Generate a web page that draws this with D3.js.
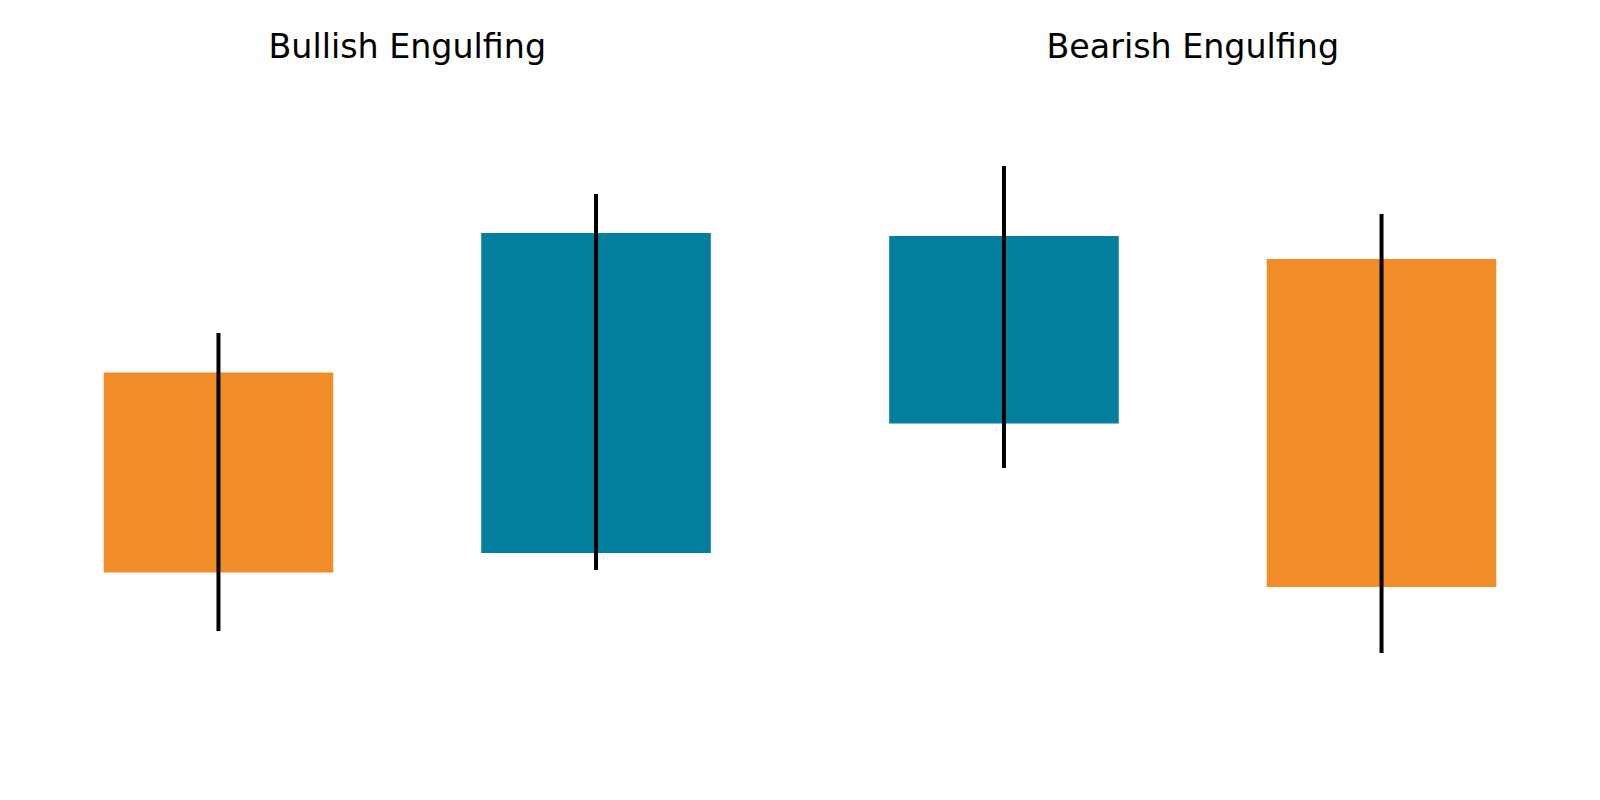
<!DOCTYPE html>
<html>
<head>
<meta charset="utf-8">
<script src="https://cdn.jsdelivr.net/npm/d3@7"></script>
<style>
  html, body { margin: 0; padding: 0; background: #ffffff; }
  svg { display: block; }
</style>
</head>
<body>
<svg id="chart" width="1600" height="800"></svg>
<script>
// ---- data ----
const panelTitles = ["Bullish Engulfing", "Bearish Engulfing"];
const candleIndex = [0, 1];
// panel 1: Bullish Engulfing
const bullOpen  = [30.75, 12.7];
const bullClose = [10.75, 44.7];
const bullHigh  = [34.7, 48.6];
const bullLow   = [4.9, 11.0];
// panel 2: Bearish Engulfing
const bearOpen  = [25.65, 42.1];
const bearClose = [44.4, 9.3];
const bearHigh  = [51.4, 46.6];
const bearLow   = [21.2, 2.7];

const upColor = "#017f9d";
const downColor = "#f18d29";

function buildCandles(open, close, high, low) {
  return candleIndex.map((i, k) => ({ i, open: open[k], close: close[k], high: high[k], low: low[k] }));
}
const panels = [
  { title: panelTitles[0], candles: buildCandles(bullOpen, bullClose, bullHigh, bullLow), x0: 75, x1: 739.5 },
  { title: panelTitles[1], candles: buildCandles(bearOpen, bearClose, bearHigh, bearLow), x0: 860.5, x1: 1525 }
];

const svg = d3.select("#chart");
const y = d3.scaleLinear().domain([0, 50]).range([680, 180]);
const bodyWidth = 0.608;

panels.forEach(p => {
  const x = d3.scaleLinear().domain([-0.38, 1.38]).range([p.x0, p.x1]);
  const g = svg.append("g");

  g.selectAll("rect.body")
    .data(p.candles)
    .join("rect")
    .attr("class", "body")
    .attr("x", d => x(d.i - bodyWidth / 2))
    .attr("width", d => x(d.i + bodyWidth / 2) - x(d.i - bodyWidth / 2))
    .attr("y", d => y(Math.max(d.open, d.close)))
    .attr("height", d => Math.abs(y(d.open) - y(d.close)))
    .attr("fill", d => d.close >= d.open ? upColor : downColor);

  g.selectAll("line.wick")
    .data(p.candles)
    .join("line")
    .attr("class", "wick")
    .attr("x1", d => x(d.i))
    .attr("x2", d => x(d.i))
    .attr("y1", d => y(d.high))
    .attr("y2", d => y(d.low))
    .attr("stroke", "#000")
    .attr("stroke-width", 4);

  g.append("text")
    .attr("x", (p.x0 + p.x1) / 2)
    .attr("y", 58)
    .attr("text-anchor", "middle")
    .attr("font-family", "DejaVu Sans")
    .attr("font-size", 33.3)
    .attr("fill", "#000")
    .text(p.title);
});
</script>
</body>
</html>
